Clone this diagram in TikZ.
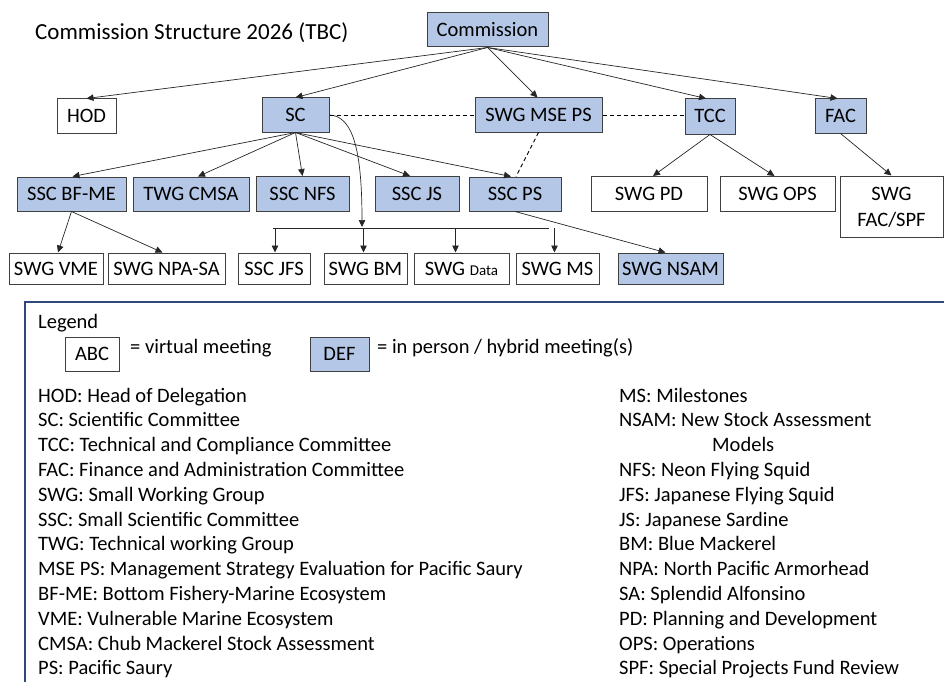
\documentclass[tikz,border=0pt]{standalone}
\usepackage{fontspec}
\setmainfont{Carlito}
\usetikzlibrary{arrows.meta,positioning,calc}
\definecolor{meetblue}{HTML}{B4C7E7}
\definecolor{boxgrey}{HTML}{404040}
\definecolor{linkgrey}{HTML}{262626}
\definecolor{legendnavy}{HTML}{2F4A78}

\begin{document}
\begin{tikzpicture}[
  x=1pt, y=-1pt,
  boxsize/.style 2 args={minimum width=#1pt, minimum height=#2pt},
  orgbox/.style={rectangle, draw=boxgrey, line width=1pt, inner sep=0pt, align=center,
    font=\fontsize{20.5}{26}\selectfont, text height=13pt, text depth=0pt},
  virtualbox/.style={orgbox, fill=white},
  hybridbox/.style={orgbox, fill=meetblue},
  link/.style={draw=linkgrey, line width=0.7pt, -{Triangle[length=7pt,width=6.5pt]}},
  peerlink/.style={draw=black, line width=0.9pt, dash pattern=on 4pt off 3pt},
  legendline/.style={draw=legendnavy, line width=1.2pt},
  legtext/.style={anchor=base west, inner sep=0pt, font=\fontsize{20.5}{24}\selectfont}
]
\useasboundingbox (0,0) rectangle (944,682);

% Title and top of the tree
\node[anchor=base west, inner sep=0pt, font=\fontsize{23}{28}\selectfont] (title) at (35,40) {Commission Structure 2026 (TBC)};
\node[hybridbox, boxsize={121}{34}] (commission) at (487.5,30) {Commission};

% Bodies under the Commission
\node[virtualbox, boxsize={59}{34}] (hod) at (86.5,116) {HOD};
\node[hybridbox, boxsize={67}{34}] (sc) at (295.5,115) {SC};
\node[hybridbox, boxsize={127}{34}] (mseps) at (538.5,115) {SWG MSE PS};
\node[hybridbox, boxsize={50}{35}] (tcc) at (710,116.5) {TCC};
\node[hybridbox, boxsize={51}{34}] (fac) at (840.5,116) {FAC};

% Second row
\node[hybridbox, boxsize={109}{34}] (bfme) at (71.5,194) {SSC BF-ME};
\node[hybridbox, boxsize={116}{34}, right=6pt of bfme] (cmsa) {TWG CMSA};
\node[hybridbox, boxsize={93}{35}, right=6pt of cmsa] (nfs) {SSC NFS};
\node[hybridbox, boxsize={84}{35}, right=25pt of nfs] (js) {SSC JS};
\node[hybridbox, boxsize={92}{34}, right=9pt of js] (ssps) {SSC PS};
\node[virtualbox, boxsize={116}{35}, right=29pt of ssps] (pd) {SWG PD};
\node[virtualbox, boxsize={115}{35}, right=12pt of pd] (ops) {SWG OPS};
\node[virtualbox, boxsize={103}{61}, text height=39pt] (facspf) at (891.5,206.5) {SWG\\FAC/SPF};

% Third row
\node[virtualbox, boxsize={94}{31}] (vme) at (56,268.5) {SWG VME};
\node[virtualbox, boxsize={117}{31}, right=4pt of vme] (npasa) {SWG NPA-SA};
\node[virtualbox, boxsize={72}{31}, right=12pt of npasa] (jfs) {SSC JFS};
\node[virtualbox, boxsize={83}{31}, right=13pt of jfs] (bm) {SWG BM};
\node[virtualbox, boxsize={95}{31}, right=6pt of bm] (data) {SWG {\fontsize{15}{18}\selectfont Data}};
\node[virtualbox, boxsize={83}{31}, right=6pt of data] (ms) {SWG MS};
\node[hybridbox, boxsize={105}{31}, right=18pt of ms] (nsam) {SWG NSAM};

% Reporting lines
\foreach \kid/\dx in {hod/0,sc/0,mseps/-1,tcc/-4,fac/-3}
  \draw[link] (commission.south) -- ($(\kid.north)+(\dx,0)$);
\foreach \kid/\dx in {bfme/1,cmsa/7,nfs/0,js/-7,ssps/-4}
  \draw[link] (sc.south) -- ($(\kid.north)+(\dx,0)$);
\foreach \kid/\dx in {vme/2,npasa/-4}
  \draw[link] (bfme.south) -- ($(\kid.north)+(\dx,0)$);
\foreach \kid/\dx in {pd/4,ops/-3}
  \draw[link] (tcc.south) -- ($(\kid.north)+(\dx,0)$);
\draw[link] (fac.south) -- (facspf.north);
\draw[link] (ssps.south) -- ($(nsam.north)+(-5,0)$);

% SC working groups hang from a bar
\coordinate (barL) at (273,228);
\coordinate (barR) at (549,228);
\coordinate (barJoin) at (362,227);
\draw[draw=linkgrey, line width=0.8pt] (barL) -- (barR);
\draw[link] (sc.east) .. controls +(24,1) and +(0,-75) .. (barJoin);
\foreach \kid/\dx in {jfs/1,bm/-2,data/-6,ms/-3}
  \draw[link] ($(\kid.north |- barL)+(\dx,0)$) -- ($(\kid.north)+(\dx,0)$);

% Links between SC, MSE PS and TCC
\draw[peerlink] (sc.east) -- (mseps.west);
\draw[peerlink] (mseps.east) -- (mseps.east -| tcc.west);
\draw[peerlink] (mseps.south) -- ($(ssps.north)+(1,0)$);

% Legend
\draw[legendline] (944,302) -- (25,302) -- (25,682);
\node[legtext] (legendhead) at (38,328) {Legend};
\node[virtualbox, boxsize={54}{34}] (abc) at (92,354) {ABC};
\node[legtext] (abctext) at (130,353) {= virtual meeting};
\node[hybridbox, boxsize={59}{34}] (def) at (339.5,354) {DEF};
\node[legtext] (deftext) at (377,353) {= in person / hybrid meeting(s)};

\foreach \txt [count=\i from 0] in {HOD: Head of Delegation, SC: Scientific Committee,
  TCC: Technical and Compliance Committee, FAC: Finance and Administration Committee,
  SWG: Small Working Group, SSC: Small Scientific Committee, TWG: Technical working Group,
  MSE PS: Management Strategy Evaluation for Pacific Saury, BF-ME: Bottom Fishery-Marine Ecosystem,
  VME: Vulnerable Marine Ecosystem, CMSA: Chub Mackerel Stock Assessment, PS: Pacific Saury}
  \node[legtext] (abbrL\i) at (38,{402+24.8*\i}) {\txt};
\foreach \k/\txt in {0/MS: Milestones, 1/NSAM: New Stock Assessment, 3/NFS: Neon Flying Squid,
  4/JFS: Japanese Flying Squid, 5/JS: Japanese Sardine, 6/BM: Blue Mackerel,
  7/NPA: North Pacific Armorhead, 8/SA: Splendid Alfonsino, 9/PD: Planning and Development,
  10/OPS: Operations, 11/SPF: Special Projects Fund Review}
  \node[legtext] (abbrR\k) at (619,{402+24.8*\k}) {\txt};
\node[legtext] (abbrR2) at (712,{402+24.8*2}) {Models};

\end{tikzpicture}
\end{document}
